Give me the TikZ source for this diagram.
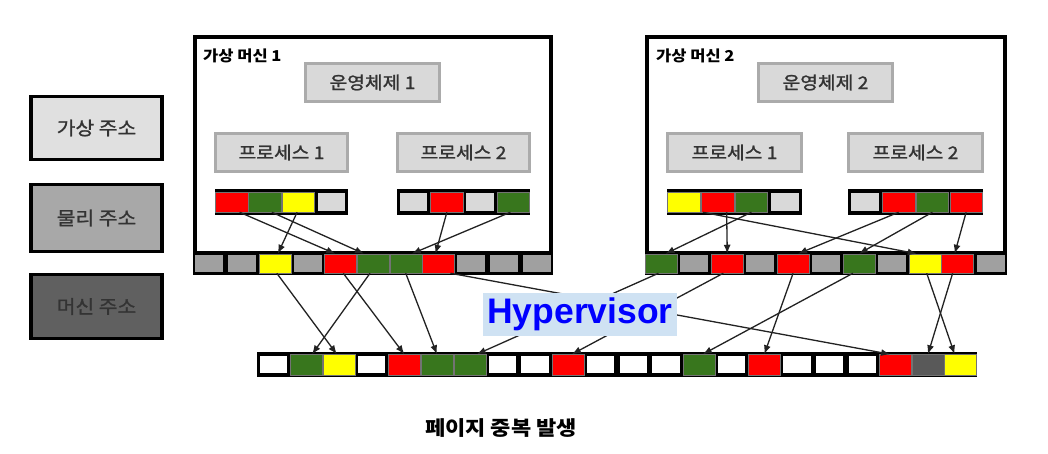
\documentclass[tikz,border=0pt]{standalone}
\usepackage{fontspec}
\setmainfont{Liberation Sans}
\newfontfamily\kr{Noto Sans CJK KR}
\newfontfamily\krw{Noto Sans CJK KR}[FakeStretch=1.1]
\newfontfamily\krm{Noto Sans CJK KR}[FakeStretch=1.1,FakeBold=1.3]
\usetikzlibrary{arrows.meta}
\definecolor{cred}{HTML}{FF0000}
\definecolor{cgreen}{HTML}{38761D}
\definecolor{cyel}{HTML}{FFFF00}
\definecolor{clight}{HTML}{D9D9D9}
\definecolor{cmid}{HTML}{A0A0A0}
\definecolor{cdark}{HTML}{595959}
\definecolor{boxfill}{HTML}{D9D9D9}
\definecolor{boxedge}{HTML}{ABABAB}
\definecolor{txt}{HTML}{333333}
\definecolor{hvbg}{HTML}{CFE2F3}
\definecolor{hvtxt}{HTML}{0000FF}
\definecolor{lgA}{HTML}{E0E0E0}
\definecolor{lgB}{HTML}{A8A8A8}
\definecolor{lgC}{HTML}{606060}
\definecolor{arr}{HTML}{222222}
\tikzset{
  cellnode/.style={rectangle, inner sep=0pt, outer sep=0pt},
  pR/.style={full, fill=cred},
  pG/.style={full, fill=cgreen},
  pY/.style={full, fill=cyel},
  pD/.style={full, fill=cdark},
  pM/.style={inset, fill=cmid},
  pL/.style={inset, fill=clight},
  pW/.style={inset, fill=white},
  graybox/.style={rectangle, fill=boxfill, draw=boxedge, line width=2.5pt, text=txt,
    font=\krm\fontsize{17.5}{19}\selectfont, inner sep=0pt},
  legend/.style={rectangle, draw=black, line width=3.5pt, text=txt,
    minimum width=131pt, inner sep=0pt, font=\krm\fontsize{18.5}{20}\selectfont},
  vmframe/.style={rectangle, draw=black, line width=4pt, fill=white, inner sep=0pt},
  blackbar/.style={rectangle, fill=black, inner sep=0pt},
  vmtitle/.style={anchor=west, font=\krw\bfseries\fontsize{15}{16}\selectfont, inner sep=0pt},
  link/.style={draw=arr, line width=1.3pt, -{Latex[length=9pt,width=7pt]}},
}
\begin{document}
\begin{tikzpicture}[x=1pt,y=-1pt]
\useasboundingbox (0,0) rectangle (1048,454);
\fill[white] (0,0) rectangle (1048,454);

% legend
\node[legend, fill=lgA, minimum height=63pt] (lg1) at (96.5,128) {가상 주소};
\node[legend, fill=lgB, minimum height=67pt] (lg2) at (96.5,218) {물리 주소};
\node[legend, fill=lgC, minimum height=64pt] (lg3) at (96.5,306.5) {머신 주소};

% VM frames
\node[vmframe, minimum width=356pt, minimum height=236pt] (vm1) at (373,155) {};
\node[vmframe, minimum width=358pt, minimum height=236pt] (vm2) at (826,155) {};
\node[vmtitle] (vt1) at (203,56) {가상 머신 1};
\node[vmtitle] (vt2) at (656,56) {가상 머신 2};

% OS and process boxes
\node[graybox, minimum width=134pt, minimum height=38pt] (os1) at (372.5,82.5) {운영체제 1};
\node[graybox, minimum width=134pt, minimum height=38pt] (os2) at (825.5,82.5) {운영체제 2};
\node[graybox, minimum width=132pt, minimum height=38pt] (p11) at (281.5,152.5) {프로세스 1};
\node[graybox, minimum width=132pt, minimum height=38pt] (p12) at (463.5,152.5) {프로세스 2};
\node[graybox, minimum width=134pt, minimum height=38pt] (p21) at (734.5,152.5) {프로세스 1};
\node[graybox, minimum width=134pt, minimum height=38pt] (p22) at (915.5,152.5) {프로세스 2};

% page tables
\node[blackbar, minimum width=133pt, minimum height=26pt] (tb11) at (281.5,202) {};
\node[blackbar, minimum width=133pt, minimum height=26pt] (tb12) at (463.5,202) {};
\node[blackbar, minimum width=135pt, minimum height=26pt] (tb21) at (734.5,202) {};
\node[blackbar, minimum width=135pt, minimum height=26pt] (tb22) at (915.5,202) {};
\begin{scope}[full/.style={draw=black!55, line width=0.4pt, minimum width=32.5pt, minimum height=20.5pt},
              inset/.style={minimum width=27.5pt, minimum height=18pt}]
\foreach \s [count=\i] in {pR,pG,pY,pL}
  \node[cellnode,\s] (t11-\i) at ({215+(\i-0.5)*33.25},202) {};
\foreach \s [count=\i] in {pL,pR,pL,pG}
  \node[cellnode,\s] (t12-\i) at ({397+(\i-0.5)*33.25},202) {};
\foreach \s [count=\i] in {pY,pR,pG,pL}
  \node[cellnode,\s] (t21-\i) at ({667+(\i-0.5)*33.75},202) {};
\foreach \s [count=\i] in {pL,pR,pG,pR}
  \node[cellnode,\s] (t22-\i) at ({848+(\i-0.5)*33.75},202) {};
\end{scope}

% VM physical bars
\node[blackbar, minimum width=360pt, minimum height=24pt] (bar1) at (373,263) {};
\node[blackbar, minimum width=362pt, minimum height=24pt] (bar2) at (826,263) {};
\begin{scope}[full/.style={draw=black!55, line width=0.4pt, minimum width=32pt, minimum height=19.5pt},
              inset/.style={minimum width=28pt, minimum height=16.5pt}]
\foreach \s [count=\i] in {pM,pM,pY,pM,pR,pG,pG,pR,pM,pM,pM}
  \node[cellnode,\s] (v1-\i) at ({193+(\i-0.5)*32.727},263.5) {};
\foreach \s [count=\i] in {pG,pM,pR,pM,pR,pM,pG,pM,pY,pR,pM}
  \node[cellnode,\s] (v2-\i) at ({645+(\i-0.5)*32.909},263.5) {};
\end{scope}

% machine bar
\node[blackbar, minimum width=720pt, minimum height=25pt] (mbar) at (617,364.5) {};
\begin{scope}[full/.style={draw=black!55, line width=0.4pt, minimum width=32pt, minimum height=20.5pt},
              inset/.style={minimum width=27.5pt, minimum height=17.5pt}]
\foreach \s [count=\i] in {pW,pG,pY,pW,pR,pG,pG,pW,pW,pR,pW,pW,pW,pG,pW,pR,pW,pW,pW,pR,pD,pY}
  \node[cellnode,\s] (m-\i) at ({257+(\i-0.5)*32.727},364.5) {};
\end{scope}

% VM1 tables -> bar
\draw[link] ([xshift=-1pt]t11-3.south) -- ([xshift=3pt]v1-3.north);
\draw[link] ([xshift=8pt]t11-1.south) -- ([xshift=-5pt]v1-5.north);
\draw[link] ([xshift=7pt]t11-2.south) -- ([xshift=-9pt]v1-6.north);
\draw[link] (t12-2.south) -- ([xshift=-3pt]v1-8.north);
\draw[link] ([xshift=-3pt]t12-4.south) -- ([xshift=6pt]v1-7.north);
% VM2 tables -> bar
\draw[link] (t21-3.south) -- ([xshift=4pt]v2-1.north);
\draw[link] ([xshift=9pt]t21-2.south) -- (v2-3.north);
\draw[link] ([xshift=19pt]t21-1.south) -- ([xshift=-8pt]v2-9.north);
\draw[link] (t22-2.south) -- ([xshift=5pt]v2-5.north);
\draw[link] (t22-3.south) -- (v2-7.north);
\draw[link] (t22-4.south) -- ([xshift=-3pt]v2-10.north);
% VM1 bar -> machine
\draw[link] ([xshift=2pt]v1-3.south) -- ([xshift=-2pt]m-3.north);
\draw[link] ([xshift=3pt]v1-5.south) -- (m-5.north);
\draw[link] ([xshift=-3pt]v1-6.south) -- ([xshift=6pt]m-2.north);
\draw[link] (v1-7.south) -- (m-6.north);
\draw[link] ([xshift=12pt]v1-8.south) -- ([xshift=-5pt]m-20.north);
% VM2 bar -> machine
\draw[link] ([xshift=-3pt]v2-1.south) -- ([xshift=7pt]m-7.north);
\draw[link] ([xshift=-4pt]v2-3.south) -- ([xshift=4pt]m-10.north);
\draw[link] (v2-5.south) -- (m-16.north);
\draw[link] ([xshift=-6pt]v2-7.south) -- ([xshift=4pt]m-14.north);
\draw[link] ([xshift=2pt]v2-9.south) -- ([xshift=-6pt]m-22.north);
\draw[link] ([xshift=-5pt]v2-10.south) -- (m-21.north);

% Hypervisor label
\node[fill=hvbg, text=hvtxt, font=\bfseries\fontsize{35.5}{36}\selectfont, inner sep=0pt,
      minimum width=194pt, minimum height=43pt] (hv) at (580,314) {Hypervisor};

% caption
\node[font=\krw\bfseries\fontsize{20}{21}\selectfont] (cap) at (501,428) {페이지 중복 발생};
\end{tikzpicture}
\end{document}
